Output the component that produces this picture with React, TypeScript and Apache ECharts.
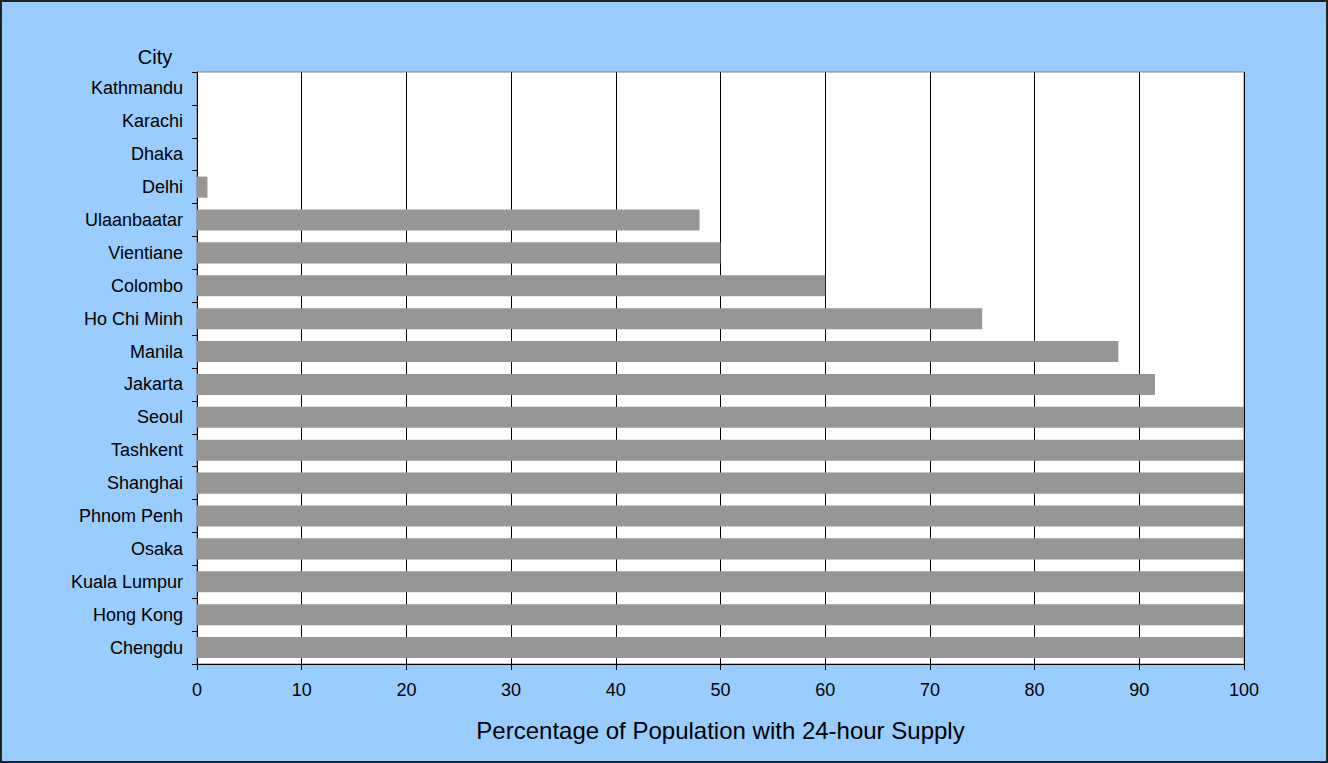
import React, { useEffect, useRef } from "react";
import * as echarts from "echarts";

const cities = [
  "Kathmandu", "Karachi", "Dhaka", "Delhi", "Ulaanbaatar", "Vientiane", "Colombo",
  "Ho Chi Minh", "Manila", "Jakarta", "Seoul", "Tashkent", "Shanghai", "Phnom Penh",
  "Osaka", "Kuala Lumpur", "Hong Kong", "Chengdu",
];
const supplyPct = [0, 0, 0, 1, 48, 50, 60, 75, 88, 91.5, 100, 100, 100, 100, 100, 100, 100, 100];
const xTitle = "Percentage of Population with 24-hour Supply";
const yTitle = "City";

export default function App() {
  const ref = useRef<HTMLDivElement>(null);
  useEffect(() => {
    document.body.style.margin = "0";
    const chart = echarts.init(ref.current!, undefined, { renderer: "svg" });
    const font = "Arial, 'Liberation Sans', sans-serif";
    chart.setOption({
      animation: false,
      backgroundColor: "#99CCFF",
      textStyle: { fontFamily: font },
      grid: {
        left: 197, right: 84, top: 72, bottom: 99,
        show: true, backgroundColor: "#ffffff", borderColor: "#808080", borderWidth: 1,
      },
      graphic: [
        { type: "rect", shape: { x: 1, y: 1, width: 1326, height: 761 }, style: { fill: "none", stroke: "#222", lineWidth: 2 }, z: 100 },
        { type: "text", x: 155, y: 57, style: { text: yTitle, fontSize: 20, fontFamily: font, fill: "#000", align: "center", verticalAlign: "middle" } },
      ],
      xAxis: {
        type: "value", min: 0, max: 100, interval: 10,
        name: xTitle, nameLocation: "middle", nameGap: 54,
        nameTextStyle: { fontSize: 24, color: "#000", fontFamily: font },
        axisLine: { show: true, lineStyle: { color: "#000", width: 1 } },
        axisTick: { show: true, length: 6, lineStyle: { color: "#000" } },
        axisLabel: { fontSize: 18, color: "#000", margin: 17, fontFamily: font },
        splitLine: { show: true, lineStyle: { color: "#000", width: 1 } },
      },
      yAxis: {
        type: "category", data: cities, inverse: true,
        axisLine: { show: true, lineStyle: { color: "#000", width: 1 } },
        axisTick: { show: true, length: 5, lineStyle: { color: "#000" } },
        axisLabel: { fontSize: 18, color: "#000", margin: 14, fontFamily: font },
        splitLine: { show: false },
      },
      series: [{
        type: "bar", data: supplyPct, barCategoryGap: "36%",
        itemStyle: { color: "#969696" },
      }],
    });
    return () => chart.dispose();
  }, []);
  return <div ref={ref} style={{ width: 1328, height: 763 }} />;
}
